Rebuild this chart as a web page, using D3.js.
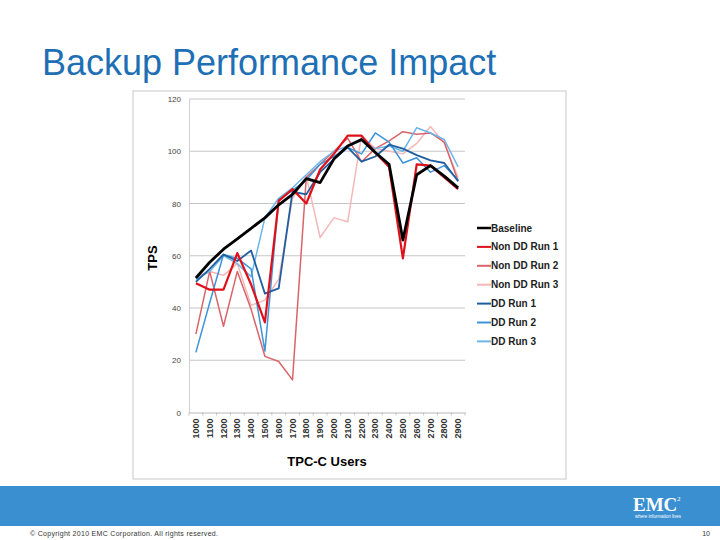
<!DOCTYPE html>
<html><head><meta charset="utf-8">
<script src="https://cdn.jsdelivr.net/npm/d3@7"></script>
<style>body{margin:0;background:#fff;}svg{display:block;}</style>
</head><body>
<svg id="c" width="720" height="540"></svg>
<script>
const categories = [1000,1100,1200,1300,1400,1500,1600,1700,1800,1900,2000,2100,2200,2300,2400,2500,2600,2700,2800,2900];
const yTicks = [0,20,40,60,80,100,120];
const seriesNames = ["Baseline","Non DD Run 1","Non DD Run 2","Non DD Run 3","DD Run 1","DD Run 2","DD Run 3"];
const baseline = [51.5,57.5,62.5,66.5,70.5,74.5,79.5,83.5,89.5,88,97,102,104.5,99.5,95,66,91,94.5,90.5,86];
const nonDD1 = [49.5,47,47,61,49,34.5,81,85.5,80,93,99,106,106,99.5,94,59,95,94.5,90,85.5];
const nonDD2 = [30,54,33,54,39.5,21.5,19.5,12.5,90,95,100,105,96,101,104,107.5,106.5,107,103.5,88.5];
const nonDD3 = [52,54,52.5,57,41,43,51,82,90.5,67,74.5,73,106,101,100,99,103,109.5,103,90];
const dd1 = [50,55,60.5,58,62,45.5,47.5,84.5,83.5,92,97,101.5,96,98,102.5,101,98.5,96.5,95.5,88.5];
const dd2 = [23,42,60.5,59,55,23.5,81.5,85,89,95,98,101.5,99,107,103.5,95.5,97.5,92,94.5,89];
const dd3 = [51,54,60,57,52,74.5,82,86,91,96,100,102,104,101,102,100,109,107,104.5,94];

const seriesValues = [baseline,nonDD1,nonDD2,nonDD3,dd1,dd2,dd3];
const colors = ["#000000","#e0101a","#d9656a","#f5b8b8","#1f5fa0","#3d94d8","#6db6ea"];
const widths = [2.8,2.2,1.5,1.5,1.8,1.5,1.5];

const svg = d3.select("#c");

// Title
svg.append("text").attr("x",42).attr("y",75)
  .attr("font-family","Liberation Sans, Arial, sans-serif").attr("font-size",36)
  .attr("fill","#1f6fb5").text("Backup Performance Impact");

// chart picture frame
svg.append("rect").attr("x",133).attr("y",91).attr("width",433).attr("height",388)
  .attr("fill","#fff").attr("stroke","#c8c8c8").attr("stroke-width",1);

const x = d3.scaleBand().domain(categories).range([189,465]);
const y = d3.scaleLinear().domain([0,120]).range([412.5,99]);

const g = svg.append("g");
g.selectAll("line.grid").data(yTicks.filter(d=>d>0)).join("line")
  .attr("x1",189).attr("x2",465).attr("y1",d=>y(d)).attr("y2",d=>y(d))
  .attr("stroke","#b8b8b8").attr("stroke-width",0.8);

const yAxis = d3.axisLeft(y).tickValues(yTicks).tickSize(0).tickPadding(8);
const ya = g.append("g").attr("transform","translate(189,0)").call(yAxis);
ya.select(".domain").attr("stroke","#d0d0d0");
ya.selectAll("text").attr("font-family","Liberation Sans, Arial, sans-serif").attr("font-size",8).attr("fill","#444");

const xAxis = d3.axisBottom(x).tickSize(0).tickPadding(6);
const xa = g.append("g").attr("transform","translate(0,412.5)").call(xAxis);
xa.select(".domain").attr("stroke","#b8b8b8");
xa.selectAll("text")
  .attr("font-family","Liberation Sans, Arial, sans-serif").attr("font-size",9).attr("font-weight","bold").attr("fill","#333")
  .attr("transform","rotate(-90)").attr("text-anchor","end").attr("dy","0.35em").attr("x",-6).attr("y",0);
g.selectAll("line.xt").data(categories.concat([null])).join("line")
  .attr("x1",(d,i)=>189+i*x.step()).attr("x2",(d,i)=>189+i*x.step())
  .attr("y1",412.5).attr("y2",415.5).attr("stroke","#b8b8b8").attr("stroke-width",0.8);

svg.append("text").attr("transform","translate(157,258) rotate(-90)")
  .attr("text-anchor","middle").attr("font-family","Liberation Sans, Arial, sans-serif")
  .attr("font-size",13).attr("font-weight","bold").text("TPS");
svg.append("text").attr("x",327).attr("y",466).attr("text-anchor","middle")
  .attr("font-family","Liberation Sans, Arial, sans-serif")
  .attr("font-size",13).attr("font-weight","bold").text("TPC-C Users");

const line = d3.line().x((d,i)=>x(categories[i])+x.bandwidth()/2).y(d=>y(d));
const order = [3,2,6,5,4,1,0];
order.forEach(k=>{
  g.append("path").datum(seriesValues[k]).attr("d",line)
    .attr("fill","none").attr("stroke",colors[k]).attr("stroke-width",widths[k])
    .attr("stroke-linejoin","round");
});

const lg = svg.append("g");
seriesNames.forEach((n,i)=>{
  const yy = 228 + i*18.9;
  lg.append("line").attr("x1",477).attr("x2",491).attr("y1",yy).attr("y2",yy)
    .attr("stroke",colors[i]).attr("stroke-width",i===0?2.5:2);
  lg.append("text").attr("x",491).attr("y",yy).attr("dy","0.35em")
    .attr("font-family","Liberation Sans, Arial, sans-serif").attr("font-size",10).attr("font-weight","bold")
    .attr("fill","#222").text(n);
});

// footer bar
svg.append("rect").attr("x",0).attr("y",486).attr("width",720).attr("height",40).attr("fill","#3a8fd0");
svg.append("text").attr("x",633).attr("y",511).attr("font-family","Liberation Serif, Times New Roman, serif")
  .attr("font-size",19).attr("font-weight","bold").attr("fill","#fff").text("EMC");
svg.append("text").attr("x",677).attr("y",501).attr("font-family","Liberation Serif, serif")
  .attr("font-size",7).attr("fill","#fff").text("2");
svg.append("text").attr("x",658).attr("y",518).attr("text-anchor","middle").attr("font-family","Liberation Sans, Arial, sans-serif")
  .attr("font-size",4.5).attr("fill","#fff").text("where information lives");
svg.append("text").attr("x",30).attr("y",536).attr("font-family","Liberation Sans, Arial, sans-serif")
  .attr("font-size",7).attr("letter-spacing",0.3).attr("fill","#333").text("© Copyright 2010 EMC Corporation. All rights reserved.");
svg.append("text").attr("x",710).attr("y",536).attr("text-anchor","end").attr("font-family","Liberation Sans, Arial, sans-serif")
  .attr("font-size",7).attr("fill","#333").text("10");
</script>
</body></html>
